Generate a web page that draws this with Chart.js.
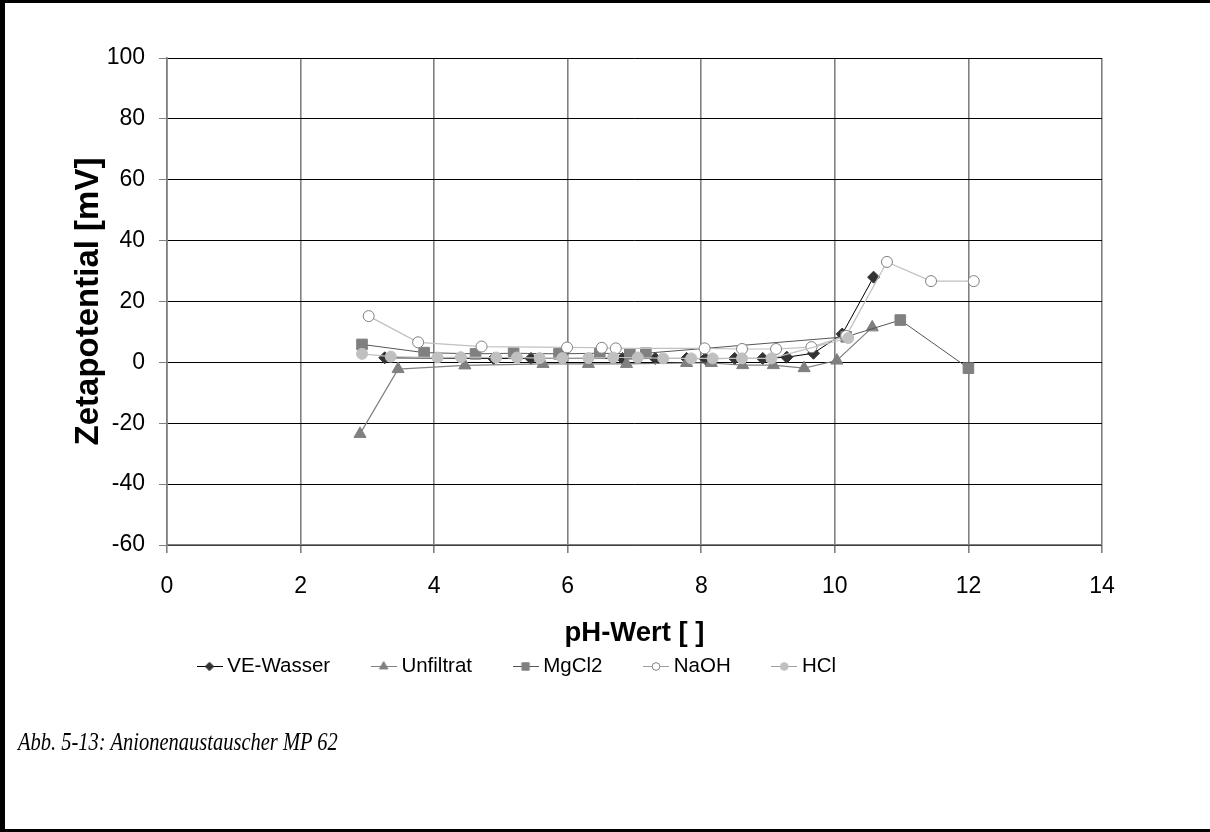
<!DOCTYPE html>
<html>
<head>
<meta charset="utf-8">
<script src="https://cdn.jsdelivr.net/npm/chart.js@4/dist/chart.umd.min.js"></script>
<style>
  html, body { margin: 0; padding: 0; background: #fff; }
  #page {
    position: relative; width: 1210px; height: 832px; box-sizing: border-box;
    border-left: 5px solid #000; border-top: 3px solid #000; border-bottom: 3px solid #000;
    overflow: hidden;
  }
  #chart { position: absolute; left: -5px; top: -3px; }
  #caption {
    position: absolute; left: 13px; top: 727px;
    font-family: "Liberation Serif", "Times New Roman", serif; font-style: italic;
    font-size: 20.5px; color: #000; white-space: nowrap;
    transform: scaleY(1.25); transform-origin: left center;
  }
</style>
</head>
<body>
<div id="page">
  <canvas id="chart" width="1210" height="832"></canvas>
  <div id="caption">Abb. 5-13: Anionenaustauscher MP 62</div>
</div>
<script>
// Zeta potential vs. pH, anion exchanger MP 62
const seriesNames = ['VE-Wasser', 'Unfiltrat', 'MgCl2', 'NaOH', 'HCl'];

const veWasserPH   = [3.26, 4.89, 5.45, 6.82, 7.31, 7.78, 8.06, 8.50, 8.92, 9.28, 9.68, 10.11, 10.58];
const veWasserZeta = [1.5, 1.3, 1.3, 1.3, 1.3, 1.3, 1.2, 1.3, 1.3, 1.7, 3.0, 9.3, 28.0];

const unfiltratPH   = [2.89, 3.46, 4.46, 5.63, 6.31, 6.88, 7.78, 8.15, 8.62, 9.08, 9.54, 10.03, 10.56];
const unfiltratZeta = [-23.5, -2.2, -1.0, -0.5, -0.5, -0.5, -0.2, -0.2, -0.9, -0.9, -1.9, 0.6, 11.5];

const mgcl2PH   = [2.92, 3.85, 4.62, 5.19, 5.87, 6.48, 6.93, 7.17, 10.17, 10.98, 12.0];
const mgcl2Zeta = [5.9, 3.2, 2.8, 3.0, 2.8, 3.0, 2.8, 3.0, 8.4, 13.9, -1.9];

const naohPH   = [3.02, 3.76, 4.71, 5.99, 6.51, 6.72, 8.05, 8.61, 9.12, 9.65, 10.17, 10.78, 11.44, 12.08];
const naohZeta = [15.2, 6.6, 5.2, 4.9, 4.8, 4.6, 4.6, 4.4, 4.4, 5.0, 8.7, 33.0, 26.7, 26.7];

const hclPH   = [2.92, 3.35, 4.05, 4.40, 4.93, 5.24, 5.58, 5.92, 6.31, 6.68, 7.05, 7.43, 7.85, 8.17, 8.61, 9.05, 10.20];
const hclZeta = [2.8, 1.9, 1.6, 1.7, 1.6, 1.6, 1.4, 1.4, 1.4, 1.6, 1.6, 1.3, 1.3, 1.3, 1.3, 1.3, 8.0];

const xTicks = [0, 2, 4, 6, 8, 10, 12, 14];
const yTicks = [-60, -40, -20, 0, 20, 40, 60, 80, 100];

const pts = (xs, ys) => xs.map((x, i) => ({ x, y: ys[i] }));

const styles = [
  { line: '#000000', lw: 1,   shape: 'rectRot',  r: 6,   fill: '#333333', stroke: '#333333' },
  { line: '#808080', lw: 1.2, shape: 'triangle', r: 7,   fill: '#808080', stroke: '#808080' },
  { line: '#555555', lw: 1,   shape: 'rect',     r: 7.5, fill: '#808080', stroke: '#808080' },
  { line: '#c0c0c0', lw: 1.2, shape: 'circle',   r: 5.5, fill: '#ffffff', stroke: '#808080' },
  { line: '#c0c0c0', lw: 1.2, shape: 'circle',   r: 5.5, fill: '#c0c0c0', stroke: '#c0c0c0' }
];
const seriesData = [
  pts(veWasserPH, veWasserZeta),
  pts(unfiltratPH, unfiltratZeta),
  pts(mgcl2PH, mgcl2Zeta),
  pts(naohPH, naohZeta),
  pts(hclPH, hclZeta)
];

const datasets = seriesNames.map((name, i) => {
  const s = styles[i];
  return {
    label: name,
    data: seriesData[i],
    showLine: true,
    borderColor: s.line,
    borderWidth: s.lw,
    pointStyle: s.shape,
    pointRadius: s.r,
    pointBackgroundColor: s.fill,
    pointBorderColor: s.stroke,
    pointBorderWidth: 1,
    tension: 0,
    order: seriesNames.length - i   // later series on top
  };
});

// small legend symbol: line segment with the series marker in the middle
function legendIcon(s) {
  const c = document.createElement('canvas');
  c.width = 26; c.height = 14;
  const g = c.getContext('2d');
  g.strokeStyle = s.line === '#c0c0c0' ? '#a0a0a0' : s.line;
  g.lineWidth = 1;
  g.beginPath(); g.moveTo(0, 7.5); g.lineTo(26, 7.5); g.stroke();
  g.fillStyle = s.fill; g.strokeStyle = s.stroke; g.lineWidth = 1;
  Chart.helpers.drawPoint(g, { pointStyle: s.shape, radius: s.r * 0.7, rotation: 0, borderWidth: 1 }, 13, 7.5);
  return c;
}

const LEGEND_X = 202, LEGEND_Y = 666, LEGEND_GAP = 46, LEGEND_FONT = 20.5;

// place the legend row under the axis title
const legendPlacement = {
  id: 'legendPlacement',
  afterLayout(chart) {
    const lg = chart.legend;
    if (!lg) return;
    lg.left = LEGEND_X - LEGEND_GAP;
    lg.right = lg.left + 1000;
    lg.top = LEGEND_Y - LEGEND_GAP - LEGEND_FONT / 2;
    lg.bottom = lg.top + LEGEND_GAP * 2 + LEGEND_FONT;
  }
};

Chart.defaults.font.family = '"Liberation Sans", Arial, sans-serif';
Chart.defaults.color = '#000';

new Chart(document.getElementById('chart'), {
  type: 'scatter',
  data: { datasets },
  plugins: [legendPlacement],
  options: {
    responsive: false,
    animation: false,
    devicePixelRatio: 1,
    layout: { padding: { left: 0, right: 108, top: 58, bottom: 147 } },
    plugins: {
      tooltip: { enabled: false },
      legend: {
        position: 'bottom',
        align: 'start',
        maxHeight: 30,
        labels: {
          usePointStyle: true,
          pointStyleWidth: 15,
          padding: LEGEND_GAP,
          font: { size: LEGEND_FONT },
          color: '#000',
          generateLabels: (chart) => chart.data.datasets.map((d, i) => ({
            text: d.label,
            pointStyle: legendIcon(styles[i]),
            fillStyle: styles[i].fill,
            strokeStyle: styles[i].stroke,
            lineWidth: 0,
            hidden: false,
            datasetIndex: i
          }))
        }
      }
    },
    scales: {
      x: {
        type: 'linear',
        min: xTicks[0], max: xTicks[xTicks.length - 1],
        afterBuildTicks: (sc) => { sc.ticks = xTicks.map(v => ({ value: v })); },
        afterFit: (sc) => { sc.height = 110; },
        ticks: { font: { size: 23 }, padding: 20, color: '#000' },
        grid: { color: '#808080', lineWidth: 1.6, tickLength: 8, tickColor: '#808080' },
        border: { display: true, color: '#808080', width: 1.6 },
        title: {
          display: true, text: 'pH-Wert [ ]',
          font: { size: 27.5, weight: 'bold' }, color: '#000',
          padding: { top: 0, bottom: 5 }
        }
      },
      y: {
        type: 'linear',
        min: yTicks[0], max: yTicks[yTicks.length - 1],
        afterBuildTicks: (sc) => { sc.ticks = yTicks.map(v => ({ value: v })); },
        afterFit: (sc) => { sc.width = 167; },
        ticks: { font: { size: 23 }, padding: 14, color: '#000' },
        grid: { color: '#000', lineWidth: 1, tickLength: 8, tickColor: '#808080' },
        border: { display: true, color: '#808080', width: 1.6 },
        title: {
          display: true, text: 'Zetapotential [mV]',
          font: { size: 33, weight: 'bold' }, color: '#000',
          padding: { top: 69, bottom: 0 }
        }
      }
    }
  }
});
</script>
</body>
</html>
